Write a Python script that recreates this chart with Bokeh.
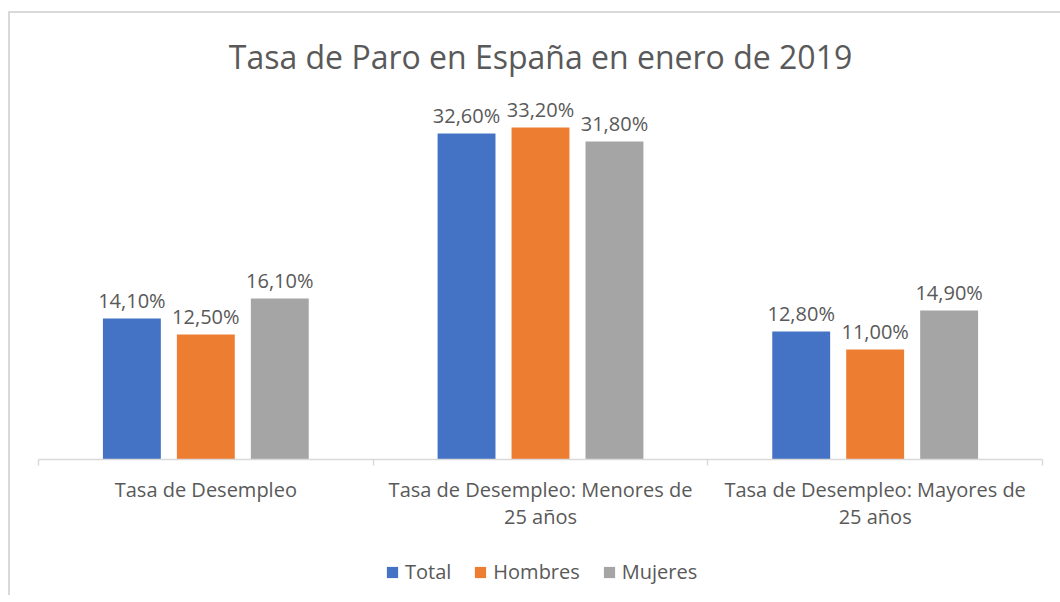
import numpy as np
from bokeh.plotting import figure
from bokeh.layouts import column
from bokeh.models import Range1d, FixedTicker, Legend, LegendItem, ColumnDataSource
from bokeh.core.properties import value
from bokeh.embed import file_html
from bokeh.resources import INLINE

title = "Tasa de Paro en España en enero de 2019"
categories = ["Tasa de Desempleo",
              "Tasa de Desempleo: Menores de 25 años",
              "Tasa de Desempleo: Mayores de 25 años"]
series = ["Total", "Hombres", "Mujeres"]
total = [14.1, 32.6, 12.8]
hombres = [12.5, 33.2, 11.0]
mujeres = [16.1, 31.8, 14.9]
colors = ["#4472C4", "#ED7D31", "#A5A5A5"]

FONT = "Open Sans"
TXT = "#595959"

p = figure(frame_width=1004, frame_height=364, output_backend="svg", toolbar_location=None,
           x_range=Range1d(0, 3), y_range=Range1d(0, 36.4),
           y_axis_location=None, min_border_left=28, min_border_right=18,
           min_border_top=82, min_border_bottom=76)
p.outline_line_color = None
p.xgrid.visible = False
p.ygrid.visible = False

p.title.text = title
p.title.align = "center"
p.title.text_font = FONT
p.title.text_font_size = "32px"
p.title.text_font_style = "normal"
p.title.text_color = TXT
p.title.standoff = 36

# legend strip below the chart
pl = figure(width=1050, height=60, output_backend="svg", toolbar_location=None,
            x_range=Range1d(0, 3), y_range=Range1d(0, 36.4),
            x_axis_location=None, y_axis_location=None,
            min_border_left=0, min_border_right=0, min_border_top=0, min_border_bottom=0)
pl.outline_line_color = None
pl.xgrid.visible = False
pl.ygrid.visible = False

centers = np.arange(len(categories)) + 0.5
offset = 0.221
bw = 0.173
items = []
for j, (name, vals, col) in enumerate(zip(series, [total, hombres, mujeres], colors)):
    xs = centers + (j - 1) * offset
    src = ColumnDataSource(dict(x=xs, top=vals,
                                lab=[f"{v:.2f}".replace(".", ",") + "%" for v in vals]))
    p.vbar(x="x", top="top", width=bw, bottom=0, source=src,
           fill_color=col, line_color=None)
    p.text(x="x", y="top", text="lab", source=src, text_align="center",
           text_baseline="alphabetic", y_offset=-18, text_font=value(FONT),
           text_font_size="20px", text_color=TXT)
    # zero-height proxy bars: only their legend swatch is visible
    r = pl.vbar(x="x", top="top", bottom="top", width=bw, source=src,
                fill_color=col, line_color=None)
    items.append(LegendItem(label=name, renderers=[r]))

ax = p.xaxis[0]
ax.ticker = FixedTicker(ticks=list(centers), minor_ticks=list(range(len(categories) + 1)))
ax.major_label_overrides = {float(c): cat.replace(" 25 años", "\n25 años")
                            for c, cat in zip(centers, categories)}
ax.axis_line_color = "#d9d9d9"
ax.axis_line_width = 1.5
ax.major_tick_line_color = None
ax.minor_tick_line_color = "#d9d9d9"
ax.minor_tick_line_width = 1.5
ax.minor_tick_in = 0
ax.minor_tick_out = 6
ax.major_tick_in = 0
ax.major_tick_out = 6
ax.major_label_standoff = 10
ax.major_label_text_font = FONT
ax.major_label_text_font_size = "20px"
ax.major_label_text_color = TXT
ax.major_label_text_line_height = 1.03

legend = Legend(items=items, orientation="horizontal", location=(347, 10),
                glyph_width=14, glyph_height=14, label_standoff=6, spacing=22,
                label_text_font=FONT, label_text_font_size="20px", label_text_color=TXT,
                border_line_color=None, background_fill_alpha=0, padding=0, margin=0)
pl.add_layout(legend)

layout = column(p, pl, spacing=0)
layout.styles = {"border-left": "2px solid #d9d9d9", "border-top": "2px solid #d9d9d9",
                 "margin-top": "11px", "margin-left": "8px"}

open("out.html", "w").write(file_html(layout, INLINE))
